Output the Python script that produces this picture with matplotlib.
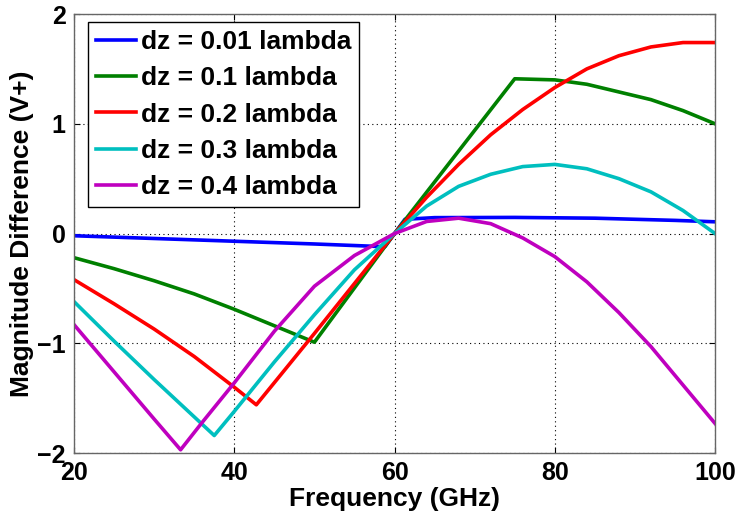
import numpy as np
import matplotlib
matplotlib.use("Agg")
import matplotlib.pyplot as plt

plt.rcParams['font.family'] = ['Liberation Sans', 'DejaVu Sans']
plt.rcParams['font.weight'] = 'bold'

# values (frequency in GHz)
f_001 = [20, 30, 40, 50, 58.8, 60, 61.3, 65, 75, 85, 90, 95, 100]
v_001 = [-0.02, -0.045, -0.07, -0.095, -0.12, 0.0, 0.13, 0.145, 0.147, 0.14, 0.13, 0.12, 0.107]

f_01 = [20, 25, 30, 35, 40, 45, 50, 60, 75, 80, 84, 88, 92, 96, 100]
v_01 = [-0.22, -0.32, -0.43, -0.55, -0.69, -0.84, -0.99, 0.0, 1.41, 1.40, 1.36, 1.29, 1.22, 1.12, 1.0]

f_02 = [20, 25, 30, 35, 40, 42.75, 50, 60, 64, 68, 72, 76, 80, 84, 88, 92, 96, 100]
v_02 = [-0.42, -0.64, -0.87, -1.12, -1.40, -1.56, -0.91, 0.0, 0.33, 0.63, 0.90, 1.13, 1.33, 1.50, 1.62, 1.70, 1.74, 1.74]

f_03 = [20, 25, 30, 35, 37.5, 40, 45, 50, 55, 60, 64, 68, 72, 76, 80, 84, 88, 92, 96, 100]
v_03 = [-0.62, -0.98, -1.33, -1.67, -1.84, -1.62, -1.17, -0.74, -0.33, 0.0, 0.25, 0.43, 0.54, 0.61, 0.63, 0.59, 0.50, 0.38, 0.21, 0.0]

f_04 = [20, 25, 30, 33.3, 36, 40, 45, 50, 55, 60, 64, 68, 72, 76, 80, 84, 88, 92, 96, 100]
v_04 = [-0.83, -1.26, -1.69, -1.97, -1.72, -1.36, -0.89, -0.48, -0.20, 0.0, 0.11, 0.14, 0.09, -0.04, -0.21, -0.44, -0.72, -1.03, -1.38, -1.73]

labels = ['dz = 0.01 lambda', 'dz = 0.1 lambda', 'dz = 0.2 lambda',
          'dz = 0.3 lambda', 'dz = 0.4 lambda']
colors = ['#0000ff', '#008000', '#ff0000', '#00bfbf', '#bf00bf']

fig = plt.figure(figsize=(7.38, 5.19), dpi=100)
ax = fig.add_axes([0.1003, 0.127, 0.8686, 0.846])

series = [(f_001, v_001), (f_01, v_01), (f_02, v_02), (f_03, v_03), (f_04, v_04)]
for (f, v), lab, c in zip(series, labels, colors):
    ax.plot(f, v, color=c, linewidth=2.6, label=lab)

ax.set_xlim(20, 100)
ax.set_ylim(-2, 2)
ax.set_xticks([20, 40, 60, 80, 100])
ax.set_yticks([-2, -1, 0, 1, 2])

# matlab style box + dotted grid
ax.grid(True, color='k', linestyle=(0, (1, 3)), linewidth=0.8)
ax.tick_params(direction='in', top=True, right=True, length=4, width=0.8,
               labelsize=18, pad=6)
for s in ax.spines.values():
    s.set_color('0.4')
    s.set_linewidth(1.0)

ax.set_xlabel('Frequency (GHz)', fontsize=19, fontweight='bold', labelpad=1)
ax.set_ylabel('Magnitude Difference (V+)', fontsize=19, fontweight='bold', labelpad=2)

leg = ax.legend(loc='upper left', bbox_to_anchor=(0.022, 0.982), borderaxespad=0,
                fontsize=19, fancybox=False, framealpha=1, edgecolor='k',
                handlelength=1.5, handletextpad=0.2, labelspacing=0.47,
                borderpad=0.3)
leg.get_frame().set_linewidth(1.0)

fig.savefig('out.png', dpi=100)
